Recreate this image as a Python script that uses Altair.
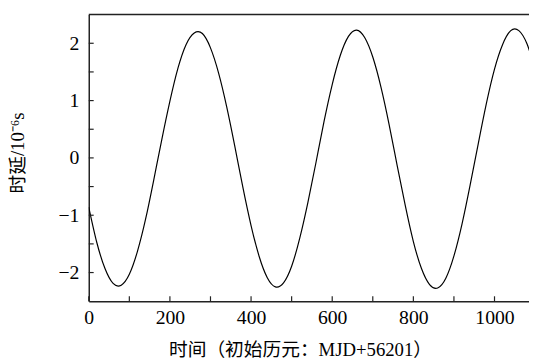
import altair as alt
import pandas as pd

# time (days since MJD 56201) and delay (1e-6 s)
days = [0, 20, 40, 60, 80, 100, 120, 140, 160, 180, 200, 220, 240, 260, 280,
        300, 320, 340, 360, 380, 400, 420, 440, 460, 480, 500, 520, 540, 560,
        580, 600, 620, 640, 660, 680, 700, 720, 740, 760, 780, 800, 820, 840,
        860, 880, 900, 920, 940, 960, 980, 1000, 1020, 1040, 1060, 1080, 1100]
delay = [-0.86, -1.48, -1.93, -2.19, -2.22, -2.03, -1.63, -1.07, -0.39, 0.32,
         0.99, 1.57, 1.98, 2.18, 2.17, 1.92, 1.48, 0.89, 0.20, -0.52, -1.18,
         -1.72, -2.09, -2.25, -2.18, -1.89, -1.40, -0.78, -0.08, 0.64, 1.28,
         1.79, 2.12, 2.23, 2.10, 1.76, 1.24, 0.59, -0.13, -0.83, -1.46, -1.93,
         -2.21, -2.27, -2.10, -1.71, -1.15, -0.47, 0.25, 0.95, 1.55, 1.98, 2.22,
         2.22, 1.99, 1.56]

x_labels = [0, 200, 400, 600, 800, 1000]
x_ticks = [0, 100, 200, 300, 400, 500, 600, 700, 800, 900, 1000]
y_labels = [-2, -1, 0, 1, 2]
y_ticks = [-2, -1.5, -1, -0.5, 0, 0.5, 1, 1.5, 2]

W, H = 447, 291
NUMFONT = "Liberation Serif"
FONT = "Liberation Serif, Noto Sans CJK SC"

xscale = alt.Scale(domain=[0, 1085], nice=False, zero=False)
yscale = alt.Scale(domain=[-2.5, 2.5], nice=False, zero=False)

xaxis = alt.Axis(values=x_labels, ticks=False, grid=False, format="d",
                 title="时间（初始历元：MJD+56201）",
                 labelPadding=7, labelFlush=False,
                 titleBaseline="alphabetic",
                 titleX=W / 2 - 9, titleY=55, titleAnchor="middle")
yaxis = alt.Axis(values=y_labels, ticks=False, grid=False, format="d",
                 title="时延/10⁻⁶s",
                 labelPadding=10, labelFlush=False,
                 titleBaseline="middle",
                 titleX=-72, titleY=140, titleAnchor="middle")

df = pd.DataFrame({"t": days, "d": delay})
xt = pd.DataFrame({"t": x_ticks})
yt = pd.DataFrame({"d": y_ticks})
one = pd.DataFrame({"k": [0]})

line = alt.Chart(df).mark_line(
    interpolate="natural", clip=True, color="black", strokeWidth=1.2
).encode(
    x=alt.X("t:Q", scale=xscale, axis=xaxis),
    y=alt.Y("d:Q", scale=yscale, axis=yaxis),
)

xtick_layer = alt.Chart(xt).mark_rule(color="#222", strokeWidth=1.2).encode(
    x=alt.X("t:Q", scale=xscale, axis=xaxis),
    y=alt.value(H - 5), y2=alt.value(H),
)
ytick_layer = alt.Chart(yt).mark_rule(color="#222", strokeWidth=1.2).encode(
    y=alt.Y("d:Q", scale=yscale, axis=yaxis),
    x=alt.value(0), x2=alt.value(5),
)
top = alt.Chart(one).mark_rule(color="#222", strokeWidth=1.5).encode(
    x=alt.value(0), x2=alt.value(W), y=alt.value(0)
)

chart = alt.layer(line, xtick_layer, ytick_layer, top).properties(
    width=W, height=H,
    autosize=alt.AutoSizeParams(type="none"),
    padding={"left": 82, "top": 4, "right": 0, "bottom": 58},
    background="white",
).configure(font=FONT).configure_view(stroke=None).configure_axis(
    labelFont=NUMFONT, labelFontSize=20, labelColor="black",
    titleFont=FONT, titleFontSize=19, titleFontWeight="normal",
    titleColor="black", domainColor="#222", domainWidth=1.5,
)

chart.save("out.html", embed_options={"renderer": "svg", "actions": False})
